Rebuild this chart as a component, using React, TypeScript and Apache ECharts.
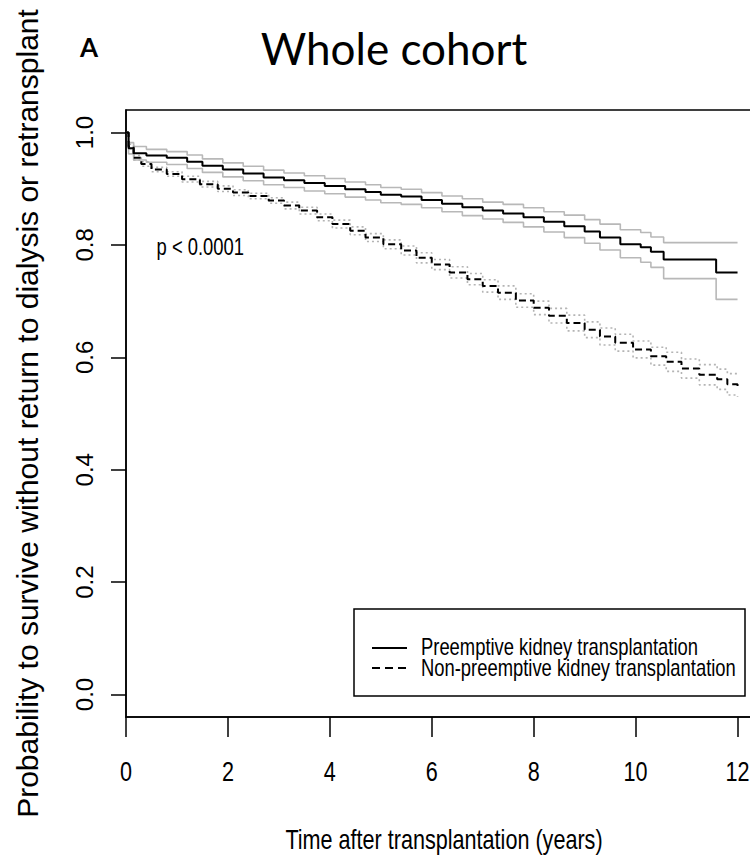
import React, { useEffect, useRef } from "react";
import * as echarts from "echarts";

// ---- Data ----
const preTimes = [0, 0.05, 0.15, 0.4, 0.8, 1.2, 1.5, 1.9, 2.3, 2.7, 3.1, 3.5, 3.9, 4.3, 4.7, 5.0, 5.4, 5.8, 6.2, 6.6, 7.0, 7.4, 7.8, 8.2, 8.6, 9.0, 9.3, 9.7, 10.1, 10.3, 10.55, 11.58, 12.0];
const preSurv = [1.0, 0.972, 0.963, 0.959, 0.955, 0.948, 0.941, 0.934, 0.927, 0.92, 0.915, 0.91, 0.905, 0.899, 0.894, 0.889, 0.886, 0.88, 0.873, 0.867, 0.861, 0.856, 0.849, 0.841, 0.833, 0.824, 0.813, 0.801, 0.796, 0.788, 0.774, 0.751, 0.751];
const preUpper = [1.0, 0.982, 0.975, 0.97, 0.966, 0.96, 0.953, 0.946, 0.94, 0.933, 0.928, 0.923, 0.918, 0.912, 0.907, 0.902, 0.899, 0.893, 0.887, 0.882, 0.876, 0.872, 0.866, 0.859, 0.853, 0.845, 0.837, 0.827, 0.822, 0.814, 0.804, 0.804, 0.804];
const preLower = [1.0, 0.962, 0.951, 0.947, 0.943, 0.936, 0.929, 0.921, 0.914, 0.907, 0.902, 0.896, 0.891, 0.885, 0.88, 0.875, 0.872, 0.866, 0.859, 0.852, 0.846, 0.84, 0.832, 0.823, 0.813, 0.803, 0.791, 0.777, 0.769, 0.76, 0.74, 0.703, 0.703];

const nonTimes = [0, 0.05, 0.15, 0.3, 0.5, 0.8, 1.1, 1.45, 1.8, 2.1, 2.4, 2.8, 3.1, 3.4, 3.75, 4.05, 4.4, 4.7, 5.05, 5.4, 5.7, 6.0, 6.35, 6.7, 7.0, 7.3, 7.65, 8.0, 8.3, 8.65, 9.0, 9.3, 9.6, 9.95, 10.3, 10.6, 10.9, 11.25, 11.6, 11.8, 12.0];
const nonSurv = [1.0, 0.975, 0.955, 0.944, 0.934, 0.926, 0.917, 0.908, 0.9, 0.893, 0.887, 0.879, 0.87, 0.861, 0.849, 0.837, 0.825, 0.813, 0.801, 0.79, 0.777, 0.765, 0.751, 0.739, 0.727, 0.715, 0.701, 0.688, 0.674, 0.661, 0.649, 0.637, 0.626, 0.614, 0.602, 0.592, 0.58, 0.569, 0.561, 0.552, 0.549];
const nonUpper = [1.0, 0.979, 0.959, 0.948, 0.938, 0.93, 0.922, 0.913, 0.905, 0.898, 0.892, 0.884, 0.876, 0.867, 0.855, 0.844, 0.832, 0.82, 0.809, 0.798, 0.786, 0.774, 0.761, 0.749, 0.738, 0.727, 0.713, 0.7, 0.687, 0.675, 0.663, 0.652, 0.641, 0.629, 0.618, 0.609, 0.597, 0.587, 0.579, 0.571, 0.569];
const nonLower = [1.0, 0.971, 0.951, 0.94, 0.93, 0.922, 0.912, 0.903, 0.895, 0.888, 0.882, 0.874, 0.864, 0.855, 0.843, 0.83, 0.818, 0.806, 0.793, 0.782, 0.768, 0.756, 0.741, 0.729, 0.716, 0.703, 0.689, 0.676, 0.661, 0.647, 0.635, 0.622, 0.611, 0.599, 0.586, 0.575, 0.563, 0.551, 0.543, 0.533, 0.53];

const xTicks = [0, 2, 4, 6, 8, 10, 12];
const yTicks = [0, 0.2, 0.4, 0.6, 0.8, 1.0];

const seriesNames = ["Preemptive kidney transplantation", "Non-preemptive kidney transplantation"];
const chartTitle = "Whole cohort";
const panelLabel = "A";
const pValueText = "p < 0.0001";
const xAxisTitle = "Time after transplantation (years)";
const yAxisTitle = "Probability to survive without return to dialysis or retransplant";

const ARIAL = "'Liberation Sans', Arial, sans-serif";
const CALIBRI = "Lato, 'Open Sans', sans-serif";
const NARROW_SCALE = 0.8;

const pairs = (t: number[], s: number[]) => t.map((x, i) => [x, s[i]]);

export default function App() {
  const ref = useRef<HTMLDivElement>(null);
  useEffect(() => {
    if (!ref.current) return;
    const chart = echarts.init(ref.current, undefined, { renderer: "svg" });
    const grayLine = (name: string, t: number[], s: number[], dotted: boolean) => ({
      name,
      type: "line",
      step: "end",
      symbol: "none",
      silent: true,
      data: pairs(t, s),
      lineStyle: { color: dotted ? "#b4b4b4" : "#b8b8b8", width: 1.6, type: dotted ? [2, 3] : "solid" },
      z: 2,
    });
    chart.setOption({
      animation: false,
      backgroundColor: "#ffffff",
      grid: {
        left: 126,
        top: 110,
        width: 636,
        height: 607,
        show: true,
        borderColor: "#000",
        borderWidth: 1.5,
        backgroundColor: "transparent",
        outerBoundsMode: "none",
        containLabel: false,
      },
      xAxis: {
        type: "value",
        min: 0,
        max: 12.48,
        splitLine: { show: false },
        axisLine: { show: true, onZero: false, lineStyle: { color: "#000", width: 1.5 } },
        axisTick: { show: true, length: 20, customValues: xTicks, lineStyle: { color: "#000", width: 1.5 } },
        axisLabel: { show: false, customValues: xTicks },
      },
      yAxis: {
        type: "value",
        min: -0.04,
        max: 1.04,
        splitLine: { show: false },
        axisLine: { show: true, onZero: false, lineStyle: { color: "#000", width: 1.5 } },
        axisTick: { show: true, length: 15, customValues: yTicks, lineStyle: { color: "#000", width: 1.5 } },
        axisLabel: {
          customValues: yTicks,
          rotate: 90,
          margin: 30,
          fontSize: 24,
          fontFamily: ARIAL,
          color: "#000",
          formatter: (v: number) => v.toFixed(1),
        },
        name: yAxisTitle,
        nameLocation: "middle",
        nameRotate: 90,
        nameGap: 84,
        nameTextStyle: { fontSize: 30, fontFamily: ARIAL, color: "#000" },
      },
      series: [
        grayLine("pre-upper", preTimes, preUpper, false),
        grayLine("pre-lower", preTimes, preLower, false),
        grayLine("non-upper", nonTimes, nonUpper, true),
        grayLine("non-lower", nonTimes, nonLower, true),
        {
          name: seriesNames[0],
          type: "line",
          step: "end",
          symbol: "none",
          silent: true,
          data: pairs(preTimes, preSurv),
          color: "#000",
          lineStyle: { color: "#000", width: 2, type: "solid" },
          z: 3,
        },
        {
          name: seriesNames[1],
          type: "line",
          step: "end",
          symbol: "none",
          silent: true,
          data: pairs(nonTimes, nonSurv),
          color: "#000",
          lineStyle: { color: "#000", width: 2, type: [7, 4] },
          z: 3,
        },
      ],
    });

    // Positions derived from the chart's own scales
    const xPix = (v: number) => chart.convertToPixel({ xAxisIndex: 0 }, v) as number;
    const yPix = (v: number) => chart.convertToPixel({ yAxisIndex: 0 }, v) as number;
    const axisBottom = yPix(-0.04);
    const plotLeft = xPix(0);
    const plotRight = xPix(12.48);

    const narrowText = (text: string, x: number, y: number, size: number, align: string) => ({
      type: "text",
      x,
      y,
      scaleX: NARROW_SCALE,
      z: 20,
      style: { text, fontSize: size, fontFamily: ARIAL, fill: "#000", align, verticalAlign: "middle" },
    });

    const legendLeft = 354;
    const legendTop = 609;
    const legendW = 391;
    const legendH = 87;
    const row1 = legendTop + 39;
    const row2 = legendTop + 59;

    chart.setOption({
      graphic: [
        {
          type: "text",
          left: 80,
          top: 34,
          style: { text: panelLabel, fontSize: 26, fontWeight: "bold", fontFamily: CALIBRI, fill: "#000" },
        },
        {
          type: "text",
          x: 394,
          y: 48,
          style: { text: chartTitle, fontSize: 44, fontFamily: CALIBRI, fill: "#000", align: "center", verticalAlign: "middle" },
        },
        ...xTicks.map((v) => narrowText(String(v), xPix(v), axisBottom + 55, 27, "center")),
        narrowText(xAxisTitle, (plotLeft + plotRight) / 2, axisBottom + 123, 27, "center"),
        narrowText(pValueText, xPix(0.6), yPix(0.8) + 2, 23, "left"),
        {
          type: "rect",
          z: 15,
          shape: { x: legendLeft, y: legendTop, width: legendW, height: legendH },
          style: { fill: "#fff", stroke: "#000", lineWidth: 1.5 },
        },
        {
          type: "line",
          z: 16,
          shape: { x1: legendLeft + 18, y1: row1, x2: legendLeft + 53, y2: row1 },
          style: { stroke: "#000", lineWidth: 2 },
        },
        {
          type: "line",
          z: 16,
          shape: { x1: legendLeft + 18, y1: row2, x2: legendLeft + 53, y2: row2 },
          style: { stroke: "#000", lineWidth: 2, lineDash: [8, 5] },
        },
        narrowText(seriesNames[0], legendLeft + 67, row1 - 1, 23, "left"),
        narrowText(seriesNames[1], legendLeft + 67, row2, 23, "left"),
      ],
    });
    return () => chart.dispose();
  }, []);
  return <div ref={ref} style={{ position: "absolute", left: 0, top: 0, width: 750, height: 861 }} />;
}
